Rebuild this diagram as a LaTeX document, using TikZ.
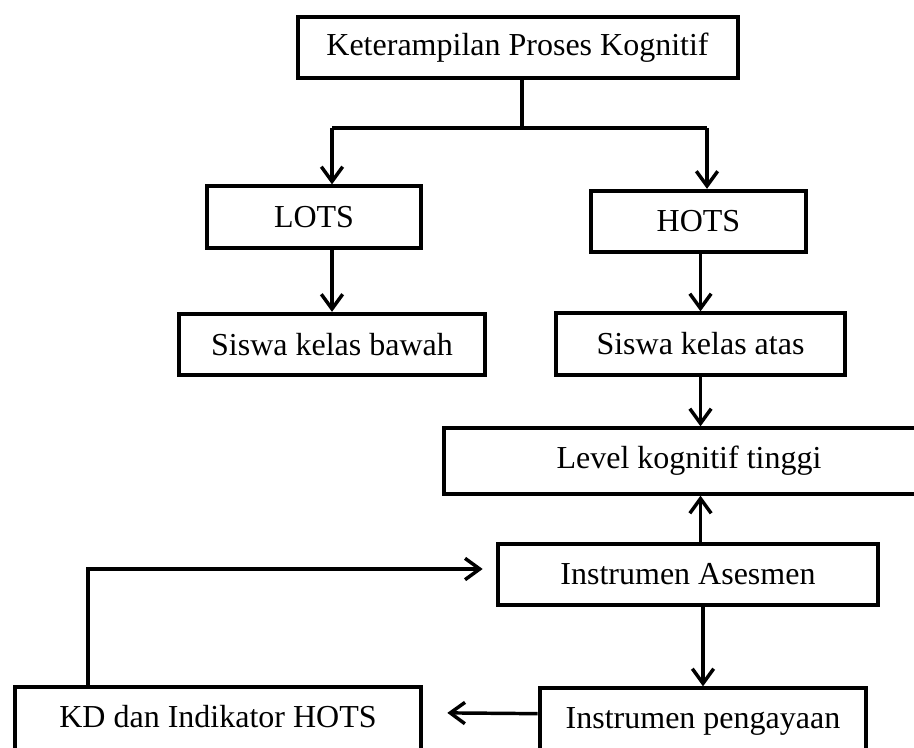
\documentclass[tikz,border=0pt]{standalone}
\usepackage{fontspec}
\setmainfont{Liberation Serif}
\usetikzlibrary{arrows.meta}
\begin{document}
\begin{tikzpicture}[x=0.75pt, y=-0.75pt, font=\fontsize{24}{28}\selectfont,
    main/.style = {draw, line width=3pt, inner sep=0pt, minimum height=46pt},
    low/.style = {main, minimum height=52pt, text height=17pt, text depth=9pt},
    link/.style = {line width=2.6pt},
    >={Straight Barb[length=11pt,width=16pt]}]
    \clip (0,0) rectangle (914,747);
    \useasboundingbox (0,0) rectangle (914,747);

    \node[main, minimum width=330pt] (keterampilan) at (517.5,47.5) {Keterampilan Proses Kognitif};
    \node[main, minimum width=161pt] (lots) at (314,217) {LOTS};
    \node[main, minimum width=161pt] (hots) at (698.5,221.5) {HOTS};
    \node[main, minimum width=230pt] (bawah) at (332,344.5) {Siswa kelas bawah};
    \node[main, minimum width=217pt] (atas) at (700.5,344) {Siswa kelas atas};
    \node[main, minimum width=368pt, minimum height=49pt] (level) at (689,461) {Level kognitif tinggi};
    \node[main, minimum width=285pt] (asesmen) at (688,574.5) {Instrumen Asesmen};
    \node[low, minimum width=305pt] (kd) at (218,722) {KD dan Indikator HOTS};
    \node[low, minimum width=245pt] (pengayaan) at (703,723) {Instrumen pengayaan};

    \coordinate (cabang) at (522,128);
    \coordinate (kiri) at (332,128);
    \coordinate (kanan) at (707,128);
    \coordinate (balik) at (88,569);

    \draw[link] (keterampilan.south -| cabang) -- (cabang);
    \draw[link] (kiri) -- (kanan);
    \draw[link,->] (kiri) -- (kiri |- lots.north);
    \draw[link,->] (kanan) -- (kanan |- hots.north);

    \draw[link,->] (bawah.north |- lots.south) -- (bawah.north);
    \draw[link,->] (atas.north |- hots.south) -- (atas.north);
    \draw[link,->] (atas.south) -- (atas.south |- level.north);

    \draw[link,->] (atas.south |- asesmen.north) -- (atas.south |- level.south);
    \draw[link,->] (pengayaan.north |- asesmen.south) -- (pengayaan.north);
    \draw[link,->,shorten >=18pt] ([yshift=7pt]pengayaan.west) -- ([yshift=7pt]kd.east);
    \draw[link,->,shorten >=10pt] (kd.north -| balik) -- (balik) -- (balik -| asesmen.west);
\end{tikzpicture}
\end{document}
